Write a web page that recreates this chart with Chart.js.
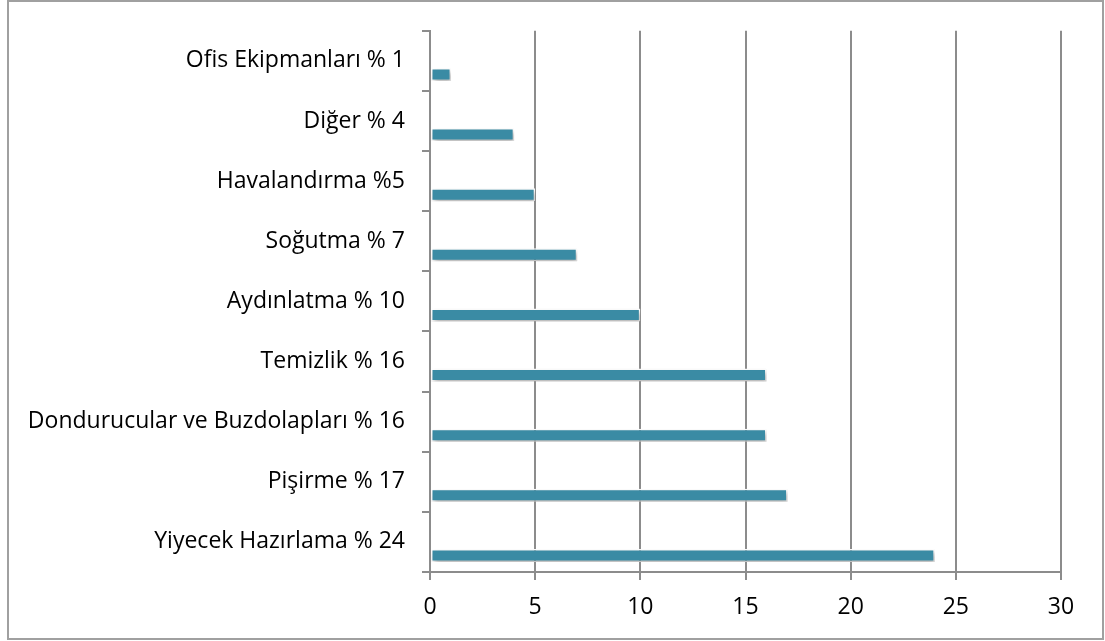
<!DOCTYPE html>
<html>
<head>
<meta charset="utf-8">
<script src="https://cdn.jsdelivr.net/npm/chart.js@4"></script>
<style>
html,body{margin:0;padding:0;background:#fff;}
#wrap{position:relative;width:1105px;height:641px;}
</style>
</head>
<body>
<div id="wrap"><canvas id="c" width="1105" height="641"></canvas></div>
<script>
const categories = ["Ofis Ekipmanları % 1","Diğer % 4","Havalandırma %5","Soğutma % 7","Aydınlatma % 10","Temizlik % 16","Dondurucular ve Buzdolapları % 16","Pişirme % 17","Yiyecek Hazırlama % 24"];
const values = [1,4,5,7,10,16,16,17,24];
const xTicks = [0,5,10,15,20,25,30];

const FONT = "'Open Sans', 'Noto Sans', sans-serif";
const GRID = '#8c8c8c';

const shadowPlugin = {
  id: 'shadow',
  beforeDatasetDraw(chart, args) {
    if (args.index !== 1) return;
    const ctx = chart.ctx;
    ctx.save();
    ctx.shadowColor = 'rgba(0,0,0,0.3)';
    ctx.shadowBlur = 5;
    ctx.shadowOffsetX = 2;
    ctx.shadowOffsetY = 3;
  },
  afterDatasetDraw(chart, args) {
    if (args.index !== 1) return;
    chart.ctx.restore();
  }
};
const framePlugin = {
  id: 'frame',
  afterDraw(chart) {
    const ctx = chart.ctx;
    ctx.save();
    ctx.strokeStyle = '#a0a0a0';
    ctx.lineWidth = 2;
    ctx.strokeRect(8, 1, 1095, 638);
    ctx.restore();
  }
};

new Chart(document.getElementById('c'), {
  type: 'bar',
  data: {
    labels: categories,
    datasets: [
      { label: '', data: categories.map(() => null), backgroundColor: 'rgba(0,0,0,0)', borderWidth: 0 },
      { label: 'Değer', data: values, backgroundColor: '#3a8ba4', borderColor: '#ffffff', borderWidth: 1.5, borderSkipped: false }
    ]
  },
  options: {
    indexAxis: 'y',
    responsive: false,
    animation: false,
    categoryPercentage: 0.9,
    barPercentage: 0.48,
    layout: { padding: { top: 29, right: 44, left: 0, bottom: 0 } },
    plugins: { legend: { display: false }, tooltip: { enabled: false } },
    scales: {
      x: {
        min: 0, max: 30,
        afterBuildTicks(scale) { scale.ticks = xTicks.map(v => ({ value: v })); },
        afterFit(scale) { scale.height = 69; },
        grid: { color: GRID, lineWidth: 2, tickLength: 8, drawTicks: true },
        border: { display: true, color: GRID, width: 2 },
        ticks: { color: '#000', font: { family: FONT, size: 23 }, padding: 14 }
      },
      y: {
        afterFit(scale) { scale.width = 430; },
        grid: { offset: true, drawOnChartArea: false, color: GRID, lineWidth: 2, tickLength: 8 },
        border: { display: true, color: GRID, width: 2 },
        ticks: { color: '#000', font: { family: FONT, size: 23 }, padding: 17 }
      }
    }
  },
  plugins: [shadowPlugin, framePlugin]
});
</script>
</body>
</html>
